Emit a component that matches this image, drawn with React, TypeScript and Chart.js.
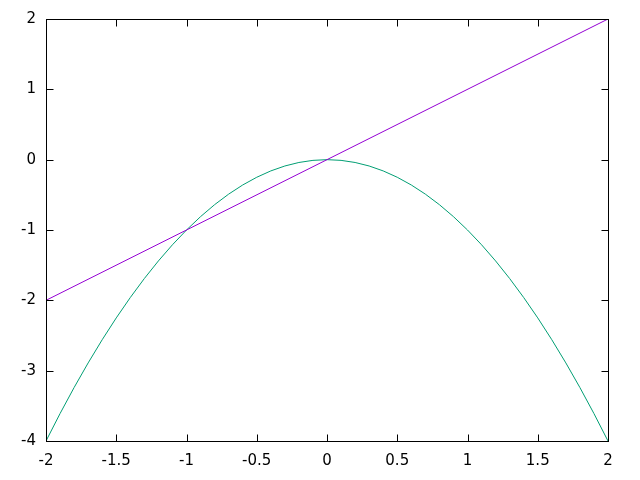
import React, { useEffect, useRef } from "react";
import { Chart, registerables } from "chart.js";

Chart.register(...registerables);

const lineX: number[] = [-2, 2];
const lineY: number[] = [-2, 2];

const curveX: number[] = [
  -2, -1.9, -1.8, -1.7, -1.6, -1.5, -1.4, -1.3, -1.2, -1.1, -1, -0.9, -0.8, -0.7,
  -0.6, -0.5, -0.4, -0.3, -0.2, -0.1, 0, 0.1, 0.2, 0.3, 0.4, 0.5, 0.6, 0.7, 0.8,
  0.9, 1, 1.1, 1.2, 1.3, 1.4, 1.5, 1.6, 1.7, 1.8, 1.9, 2,
];
const curveY: number[] = [
  -4, -3.61, -3.24, -2.89, -2.56, -2.25, -1.96, -1.69, -1.44, -1.21, -1, -0.81,
  -0.64, -0.49, -0.36, -0.25, -0.16, -0.09, -0.04, -0.01, 0, -0.01, -0.04, -0.09,
  -0.16, -0.25, -0.36, -0.49, -0.64, -0.81, -1, -1.21, -1.44, -1.69, -1.96, -2.25,
  -2.56, -2.89, -3.24, -3.61, -4,
];

const xMin = -2;
const xMax = 2;
const xStep = 0.5;
const yMin = -4;
const yMax = 2;
const yStep = 1;

const FONT = "'DejaVu Sans', sans-serif";

const framePlugin = {
  id: "gnuplotFrame",
  afterDraw(chart: any) {
    const { ctx, chartArea } = chart;
    const { left, right, top, bottom } = chartArea;
    const xs = chart.scales.x;
    const ys = chart.scales.y;
    const tl = 7;
    ctx.save();
    ctx.strokeStyle = "#000";
    ctx.lineWidth = 1;
    ctx.beginPath();
    xs.ticks.forEach((t: any) => {
      const px = Math.round(xs.getPixelForValue(t.value)) + 0.5;
      ctx.moveTo(px, bottom + 0.5);
      ctx.lineTo(px, bottom + 0.5 - tl);
      ctx.moveTo(px, top + 0.5);
      ctx.lineTo(px, top + 0.5 + tl);
    });
    ys.ticks.forEach((t: any) => {
      const py = Math.round(ys.getPixelForValue(t.value)) + 0.5;
      ctx.moveTo(left + 0.5, py);
      ctx.lineTo(left + 0.5 + tl, py);
      ctx.moveTo(right + 0.5, py);
      ctx.lineTo(right + 0.5 - tl, py);
    });
    ctx.stroke();
    ctx.strokeRect(left + 0.5, top + 0.5, right - left, bottom - top);
    ctx.restore();
  },
};

export default function App() {
  const ref = useRef<HTMLCanvasElement | null>(null);

  useEffect(() => {
    if (!ref.current) return;
    const chart = new Chart(ref.current, {
      type: "line",
      data: {
        datasets: [
          {
            label: "x",
            data: lineX.map((x, i) => ({ x, y: lineY[i] })),
            borderColor: "#9400D3",
            borderWidth: 1,
            pointRadius: 0,
            pointHoverRadius: 0,
            tension: 0,
            fill: false,
          },
          {
            label: "-x**2",
            data: curveX.map((x, i) => ({ x, y: curveY[i] })),
            borderColor: "#009E73",
            borderWidth: 1,
            pointRadius: 0,
            pointHoverRadius: 0,
            tension: 0,
            fill: false,
          },
        ],
      },
      options: {
        responsive: false,
        animation: false,
        devicePixelRatio: 1,
        layout: { autoPadding: false, padding: { left: 0, top: 19, right: 32, bottom: 0 } },
        plugins: {
          legend: { display: false },
          tooltip: { enabled: false },
        },
        scales: {
          x: {
            type: "linear",
            min: xMin,
            max: xMax,
            border: { display: false },
            grid: { display: false, drawTicks: false },
            ticks: {
              stepSize: xStep,
              padding: 11,
              maxRotation: 0,
              autoSkip: false,
              color: "#000",
              font: { family: FONT, size: 15 },
              callback: (v: any) => String(Math.round(Number(v) * 10) / 10),
            },
            afterFit: (s: any) => {
              s.height = 39;
            },
          },
          y: {
            type: "linear",
            min: yMin,
            max: yMax,
            border: { display: false },
            grid: { display: false, drawTicks: false },
            ticks: {
              stepSize: yStep,
              padding: 10,
              autoSkip: false,
              color: "#000",
              font: { family: FONT, size: 15 },
              callback: (v: any) => String(v),
            },
            afterFit: (s: any) => {
              s.width = 46;
            },
          },
        },
      },
      plugins: [framePlugin],
    });
    return () => chart.destroy();
  }, []);

  return (
    <div style={{ position: "fixed", left: 0, top: 0, width: 640, height: 480, background: "#fff" }}>
      <canvas ref={ref} width={640} height={480} style={{ display: "block" }} />
    </div>
  );
}
